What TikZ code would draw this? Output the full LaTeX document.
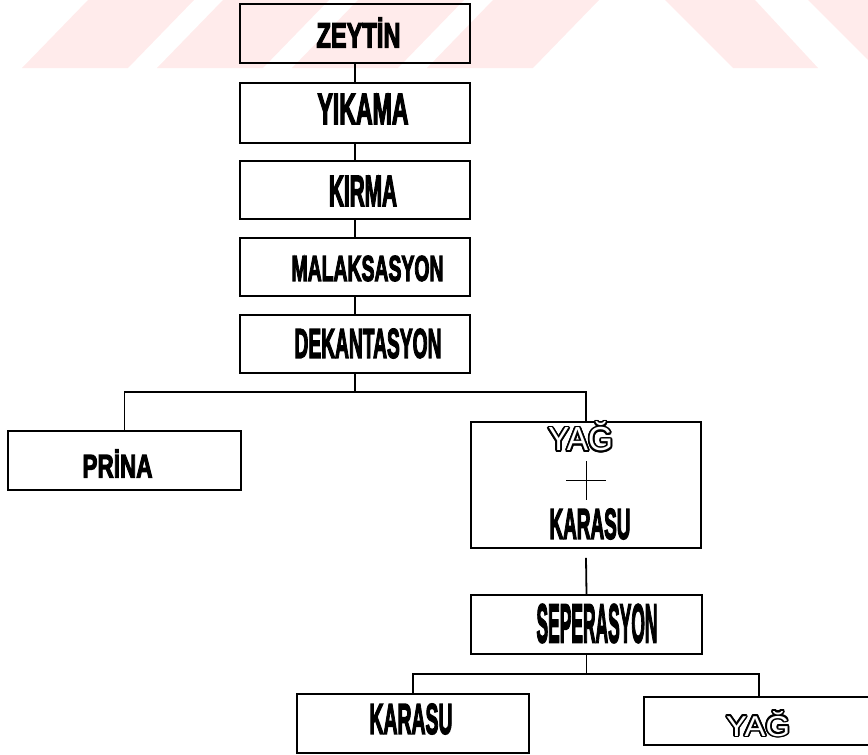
\documentclass[tikz,border=0pt]{standalone}
\usepackage{fontspec}
\setmainfont{Liberation Sans}
\newfontfamily\heavy{Liberation Sans}[UprightFeatures={FakeBold=4}, BoldFeatures={FakeBold=4}]
\usepackage{graphicx}
\usepackage{contour}
\contourlength{0.55pt}
\contournumber{16}
\colorlet{wmpink}{red!8!white}
\newcommand\lbl[3]{\resizebox{#1pt}{#2pt}{\heavy\bfseries #3}}
\newcommand\hollow[3]{\resizebox{#1pt}{#2pt}{{\color{white}\contour{black}{#3}}}}
\begin{document}
\begin{tikzpicture}[x=1pt,y=-1pt,
  box/.style={draw=black, line width=1.8pt, inner sep=0pt, minimum width=230pt, minimum height=58pt},
  lab/.style={inner sep=0pt, text=black},
  conn/.style={draw=black, line width=1.8pt},
  thin/.style={draw=black, line width=1pt}]
\useasboundingbox (0,0) rectangle (868,755);
\clip (0,0) rectangle (868,755);
% watermark
\begin{scope}
\clip (0,0) rectangle (868,68);
\foreach \L in {22,157,292,427}{
  \fill[wmpink] (\L,68) -- (\L+106,68) -- (\L+172,0) -- (\L+66,0) -- cycle;
}
\fill[wmpink] (665,0) -- (755,0) -- (818,68) -- (733,68) -- cycle;
\fill[wmpink] (808,0) -- (900,0) -- (900,68) -- (876,68) -- cycle;
\end{scope}
% boxes
\node[box, minimum height=59pt] (z) at (355,33.5) {};
\node[box, minimum height=60pt] (y) at (355,113) {};
\node[box] (k) at (355,190) {};
\node[box] (m) at (355,267) {};
\node[box] (d) at (355,344) {};
\node[box, minimum width=233pt, minimum height=59pt] (p) at (124.5,460.5) {};
\node[box, minimum height=126pt] (yk) at (586,485) {};
\node[box, minimum width=231pt, minimum height=59pt] (s) at (586.5,624.5) {};
\node[box, minimum width=232pt, minimum height=59pt] (ka) at (413,723.5) {};
\node[box, minimum height=48pt] (ya) at (759,721) {};
% labels
\node[lab] (tz) at (358.5,32.5) {\lbl{84}{30}{ZEYTİN}};
\node[lab] (ty) at (363,109) {\lbl{91}{30}{YIKAMA}};
\node[lab] (tk) at (363,191) {\lbl{68}{30}{KIRMA}};
\node[lab] (tm) at (367.5,268.5) {\lbl{152}{25}{MALAKSASYON}};
\node[lab] (td) at (368,343.5) {\lbl{147}{29}{DEKANTASYON}};
\node[lab] (tp) at (117.5,463.5) {\lbl{70}{28}{PRİNA}};
\node[lab] (tyk1) at (580.5,437.5) {\hollow{65}{29}{YAĞ}};
\node[lab] (tyk2) at (590,524) {\lbl{81}{30}{KARASU}};
\node[lab] (ts) at (597,623.5) {\lbl{121}{38}{SEPERASYON}};
\node[lab] (tka) at (411,719) {\lbl{83}{30}{KARASU}};
\node[lab] (tya) at (758,724.5) {\hollow{64}{25}{YAĞ}};
% plus sign in the mixed box
\coordinate (pl) at (566,480);
\coordinate (pr) at (606,480);
\coordinate (pt) at (586,461);
\coordinate (pb) at (586,500);
\draw[thin] (pl) -- (pr) (pt) -- (pb);
% connectors
\draw[conn] (z.south) -- (y.north);
\draw[conn] (y.south) -- (k.north);
\draw[conn] (k.south) -- (m.north);
\draw[conn] (m.south) -- (d.north);
\coordinate (b1) at (355,392);
\draw[conn] (d.south) -- (b1);
\draw[conn] (p.north) |- (b1) -| (yk.north);
\draw[conn] ([yshift=-9pt]yk.south) -- (s.north);
\coordinate (b2) at (586.5,674);
\draw[conn] (s.south) -- (b2);
\draw[conn] (ka.north) |- (b2) -| (ya.north);
\end{tikzpicture}
\end{document}
